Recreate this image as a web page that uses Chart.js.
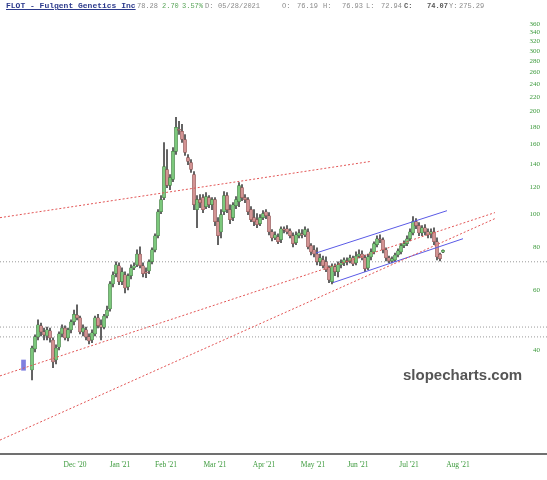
<!DOCTYPE html>
<html>
<head>
<meta charset="utf-8">
<script src="https://cdn.jsdelivr.net/npm/chart.js@4.4.1/dist/chart.umd.min.js"></script>
<style>
  html, body { margin: 0; padding: 0; background: #fff; }
  #wrap { position: relative; width: 547px; height: 480px; }
  #hdr span { position: absolute; top: 2px; font: 7px 'Liberation Mono', monospace; color: #8a8a8a; white-space: pre; }
  #hdr .t { top: 1px; font: bold 8px 'Liberation Mono', monospace; color: #2c3a8c; text-decoration: underline; }
  #hdr .g { color: #5aa55a; }
  #hdr .b { font-weight: bold; color: #555; }
  #mark { position: absolute; left: 403px; top: 367px; font: bold 15px 'Liberation Sans', sans-serif; color: #555; line-height: 1; }
</style>
</head>
<body>
<div id="wrap">
  <canvas id="chart" width="547" height="480"></canvas>
  <div id="hdr">
    <span class="t" style="left:6px">FLOT - Fulgent Genetics Inc</span>
    <span style="left:137px">78.28</span>
    <span class="g" style="left:162px">2.70</span>
    <span class="g" style="left:182px">3.57%</span>
    <span style="left:205px">D:</span>
    <span style="left:218px">05/28/2021</span>
    <span style="left:282px">O:</span>
    <span style="left:297px">76.19</span>
    <span style="left:323px">H:</span>
    <span style="left:342px">76.93</span>
    <span style="left:366px">L:</span>
    <span style="left:381px">72.94</span>
    <span class="b" style="left:404px">C:</span>
    <span class="b" style="left:427px">74.07</span>
    <span style="left:449px">Y:</span>
    <span style="left:459px">275.29</span>
  </div>
  <div id="mark">slopecharts.com</div>
</div>
<script>
// ── daily candles, one per session, left → right ───────────────────────────
const opens = [
  35.0, 40.3, 43.7, 47.1, 45.2, 44.0, 45.5, 42.8, 37.4, 40.8,
  44.6, 46.4, 43.4, 45.8, 48.4, 50.6, 49.7, 45.2, 45.8, 43.7,
  42.8, 44.6, 49.7, 47.4, 46.7, 50.3, 52.8, 62.5, 66.9, 70.6,
  63.4, 66.4, 61.2, 66.0, 69.6, 71.0, 76.4, 70.6, 67.8, 68.2,
  72.5, 78.6, 86.4, 101.6, 111.7, 135.0, 121.2, 126.2, 152.5, 176.9,
  174.5, 165.3, 146.4, 141.5, 130.5, 103.0, 110.2, 111.7, 105.1, 111.7,
  106.5, 110.2, 95.0, 88.7, 101.6, 113.2, 103.0, 97.6, 105.8, 108.7,
  119.5, 111.7, 110.2, 103.0, 97.6, 96.3, 93.7, 97.6, 101.6, 98.9,
  88.7, 85.2, 85.8, 84.1, 90.0, 90.6, 89.3, 86.4, 82.4, 86.4,
  87.5, 86.9, 88.7, 80.8, 78.6, 76.4, 72.5, 73.4, 72.5, 69.6,
  63.4, 70.1, 67.8, 71.0, 72.0, 72.9, 72.9, 74.4, 72.0, 75.4,
  76.4, 74.4, 69.6, 74.9, 77.5, 81.3, 84.7, 84.1, 78.6, 74.4,
  72.9, 73.4, 75.9, 77.5, 80.8, 81.9, 84.7, 88.1, 95.0, 92.5,
  88.1, 91.2, 88.7, 87.5, 88.7, 83.0, 76.19, 77.4
];
const highs = [
  41.1, 44.3, 49.0, 48.0, 46.4, 46.7, 46.4, 43.4, 41.4, 45.2,
  47.4, 47.1, 46.4, 49.0, 52.4, 54.2, 50.3, 47.4, 46.7, 44.6,
  45.8, 50.3, 50.9, 49.0, 50.9, 53.8, 63.4, 67.8, 72.5, 72.0,
  69.6, 67.8, 66.9, 71.0, 72.0, 78.6, 80.2, 72.0, 69.6, 73.4,
  79.7, 87.5, 103.0, 113.2, 162.0, 154.5, 130.5, 156.6, 191.9, 186.8,
  183.0, 171.0, 149.4, 144.4, 133.2, 113.2, 114.0, 114.0, 115.6, 113.2,
  111.7, 111.7, 97.6, 103.0, 116.3, 115.6, 106.5, 108.0, 112.5, 123.7,
  122.0, 114.0, 111.7, 105.1, 103.0, 100.3, 99.6, 102.3, 103.0, 101.0,
  90.0, 88.7, 87.5, 91.8, 91.8, 92.5, 90.6, 88.1, 88.7, 90.0,
  90.0, 91.8, 90.6, 81.9, 80.8, 79.7, 76.4, 75.4, 74.9, 70.6,
  71.5, 71.5, 72.5, 73.4, 74.4, 74.4, 75.9, 75.4, 77.5, 78.6,
  78.0, 75.9, 76.4, 79.1, 83.0, 86.4, 86.9, 85.2, 79.7, 75.4,
  74.9, 76.9, 79.1, 81.9, 83.5, 86.4, 90.6, 98.3, 97.0, 94.4,
  92.5, 93.1, 90.6, 90.6, 91.2, 85.2, 76.93, 78.6
];
const lows = [
  32.7, 39.5, 42.8, 44.0, 42.8, 42.8, 42.2, 35.5, 36.4, 40.0,
  43.7, 42.8, 42.5, 44.9, 47.4, 49.0, 44.6, 44.0, 42.8, 41.7,
  42.0, 44.0, 46.4, 42.8, 46.1, 49.7, 52.0, 61.2, 65.5, 62.1,
  62.1, 58.8, 60.0, 64.6, 68.7, 70.1, 69.6, 65.5, 65.1, 66.9,
  71.5, 77.5, 85.2, 100.3, 110.2, 119.5, 117.9, 124.5, 149.4, 171.0,
  162.0, 148.4, 139.6, 132.3, 103.0, 91.2, 104.4, 101.0, 103.7, 104.4,
  103.0, 92.5, 81.3, 85.2, 99.6, 101.0, 93.7, 95.6, 103.7, 105.1,
  109.4, 108.0, 99.6, 95.0, 92.5, 91.2, 92.5, 96.3, 97.0, 86.9,
  83.5, 84.1, 81.9, 82.4, 88.1, 87.5, 85.2, 80.2, 81.3, 85.2,
  85.2, 85.8, 79.1, 75.9, 74.9, 71.0, 70.6, 69.6, 67.8, 63.0,
  62.5, 66.0, 65.5, 69.6, 70.6, 71.0, 72.0, 70.6, 71.0, 74.4,
  73.4, 67.8, 68.7, 73.4, 76.4, 80.2, 82.4, 76.9, 72.9, 72.0,
  72.0, 72.5, 74.9, 76.4, 79.7, 80.8, 83.5, 86.9, 90.6, 86.4,
  86.4, 86.9, 85.2, 85.2, 81.3, 73.4, 72.94, 77.1
];
const closes = [
  40.5, 43.7, 47.4, 45.2, 44.3, 45.8, 43.4, 36.9, 40.5, 44.6,
  46.4, 43.4, 45.8, 48.4, 50.9, 49.7, 45.2, 46.4, 43.7, 42.5,
  44.9, 49.7, 47.1, 46.7, 50.3, 52.4, 62.5, 66.4, 71.0, 63.4,
  67.8, 60.8, 66.0, 69.6, 70.6, 76.4, 70.6, 66.9, 67.3, 72.5,
  78.6, 86.4, 101.6, 110.2, 137.8, 121.2, 127.9, 152.5, 179.3, 175.7,
  165.3, 151.4, 142.5, 135.0, 106.5, 110.2, 108.0, 103.0, 112.5, 106.5,
  110.2, 95.0, 86.4, 99.6, 113.2, 103.0, 96.3, 106.5, 110.2, 121.2,
  111.7, 110.2, 101.6, 96.3, 95.0, 93.1, 97.6, 100.3, 98.9, 88.7,
  85.2, 86.9, 83.0, 90.6, 89.7, 88.7, 86.4, 81.9, 86.9, 88.1,
  86.9, 90.0, 80.2, 77.5, 76.4, 72.5, 74.4, 70.6, 68.7, 64.2,
  70.6, 67.8, 71.0, 72.0, 73.4, 72.5, 74.4, 71.5, 75.4, 76.4,
  74.4, 69.2, 74.9, 77.5, 81.9, 84.7, 84.1, 78.6, 74.4, 72.9,
  73.9, 75.9, 78.0, 80.8, 81.9, 84.7, 88.7, 95.0, 92.5, 88.1,
  91.2, 88.7, 86.9, 88.7, 83.0, 74.9, 74.07, 78.28
];

// x axis runs in session units; month labels sit at these session positions
const monthTicks  = [14.33, 29.33, 44.67, 61, 77.33, 93.67, 108.67, 125.67, 142];
const monthLabels = ["Dec '20", "Jan '21", "Feb '21", "Mar '21", "Apr '21", "May '21", "Jun '21", "Jul '21", "Aug '21"];
const priceTicks  = [40, 60, 80, 100, 120, 140, 160, 180, 200, 220, 240, 260, 280, 300, 320, 340, 360];

// drawn trend lines: [session0, price0, session1, price1]
const redLines  = [
  [-10.67, 97.6, 112.67, 142.5],
  [-10.67, 33.6, 154.33, 101.0],
  [-10.67, 21.8, 154.33, 97.0],
];
const blueLines = [
  [94.67, 76.9, 138.33, 102.3],
  [100.33, 63.0, 143.67, 84.7],
];
const levels = [72.5, 46.7, 43.7];   // horizontal dotted levels
const marker = [-2.83, 34.9, 37.4];   // small blue bar left of first candle

const X_MIN = -10.67, X_MAX = 171.67;
const Y_MIN = 19.85,  Y_MAX = 382.5;

const C = {
  green: '#3c9a3c',
  up: '#7cc87c', upEdge: '#2f6a2f',
  dn: '#d39393', dnEdge: '#7a3c3c',
  wick: '#444',
  red: '#e25555', blue: '#5a5ae6', level: '#9a9a9a',
};
const axisFont = { family: 'Liberation Serif', size: 7.5 };

const isUp = closes.map((c, i) => c >= opens[i]);

function segment(p, color, dash, order) {
  return {
    type: 'line',
    data: [{ x: p[0], y: p[1] }, { x: p[2], y: p[3] }],
    borderColor: color, borderWidth: 1, borderDash: dash,
    pointRadius: 0, fill: false, order,
  };
}

const datasets = [
  ...levels.map(v => segment([X_MIN, v, X_MAX, v], C.level, [1, 2], 6)),
  {
    type: 'bar',
    data: highs.map((h, i) => ({ x: i, y: [lows[i], h] })),
    backgroundColor: C.wick, barThickness: 1, grouped: false, order: 4,
  },
  {
    type: 'bar',
    data: opens.map((o, i) => ({ x: i, y: [o, closes[i]] })),
    backgroundColor: isUp.map(u => u ? C.up : C.dn),
    borderColor: isUp.map(u => u ? C.upEdge : C.dnEdge),
    borderWidth: 0.5, borderSkipped: false, minBarLength: 1,
    barThickness: 3, grouped: false, order: 3,
  },
  {
    type: 'bar',
    data: [{ x: marker[0], y: [marker[1], marker[2]] }],
    backgroundColor: '#7f7fe0', barThickness: 4, grouped: false, order: 3,
  },
  ...redLines.map(p => segment(p, C.red, [2, 2], 1)),
  ...blueLines.map(p => segment(p, C.blue, [], 1)),
];

new Chart(document.getElementById('chart'), {
  type: 'bar',
  data: { datasets },
  options: {
    responsive: false, animation: false, devicePixelRatio: 1, events: [],
    layout: { padding: { top: 15, left: 0, right: 0, bottom: 0 } },
    plugins: { legend: { display: false }, tooltip: { enabled: false } },
    scales: {
      x: {
        type: 'linear', min: X_MIN, max: X_MAX, bounds: 'data', offset: false,
        grid: { display: false, drawTicks: false },
        border: { display: true, color: '#707070', width: 2 },
        afterBuildTicks: s => { s.ticks = monthTicks.map(v => ({ value: v })); },
        afterFit: s => { s.height = 26; },
        ticks: {
          autoSkip: false, maxRotation: 0, padding: 7,
          color: C.green, font: axisFont,
          callback: (v, i) => monthLabels[i],
        },
      },
      y: {
        type: 'logarithmic', position: 'right', min: Y_MIN, max: Y_MAX, bounds: 'data',
        grid: { display: false, drawTicks: false },
        border: { display: false },
        afterBuildTicks: s => { s.ticks = priceTicks.map(v => ({ value: v })); },
        afterFit: s => { s.width = 0; },
        ticks: {
          mirror: true, padding: -7, autoSkip: false,
          color: C.green, font: { family: 'Liberation Serif', size: 7 },
          callback: v => String(v),
        },
      },
    },
  },
});
</script>
</body>
</html>
